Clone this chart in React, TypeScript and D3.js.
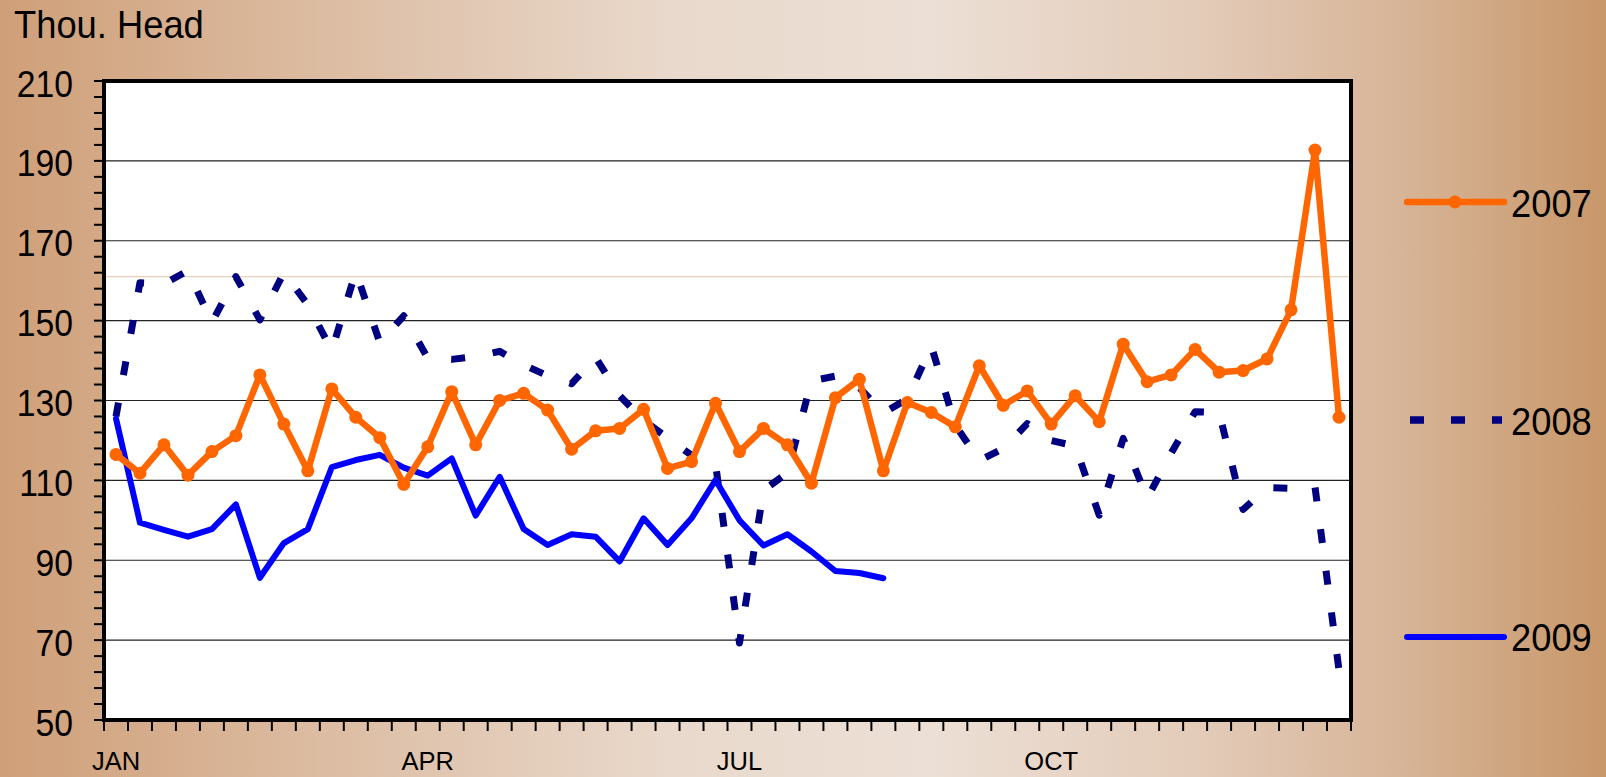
import React, { useEffect } from "react";
import * as d3 from "d3";

// weekly slaughter, thousand head
const weeks = Array.from({ length: 52 }, (_, i) => i + 1);
const monthTicks = [
  { week: 1, label: "JAN" },
  { week: 14, label: "APR" },
  { week: 27, label: "JUL" },
  { week: 40, label: "OCT" },
];
const yTickValues = [50, 70, 90, 110, 130, 150, 170, 190, 210];
const gridValues = [70, 90, 110, 130, 150, 170, 190];
const minorTickValues = d3.range(50, 211, 4);
const faintLevel = 161;

const series2007 = [
  116.5, 111.8, 118.9, 111.3, 117.2, 121.2, 136.4, 124.1, 112.4, 132.9, 125.8, 120.7, 109.0,
  118.4, 132.2, 118.9, 130.0, 131.8, 127.6, 117.8, 122.4, 123.0, 127.8, 113.0, 114.7, 129.3,
  117.2, 123.0, 118.9, 109.3, 130.7, 135.3, 112.4, 129.5, 127.0, 123.4, 138.7, 128.8, 132.4,
  124.1, 131.2, 124.7, 144.1, 134.7, 136.4, 142.8, 137.1, 137.5, 140.4, 152.7, 192.7, 125.8,
];
const series2008 = [
  126.0, 159.5, 159.2, 162.5, 149.5, 161.0, 150.2, 162.0, 154.0, 142.5, 162.3, 144.5, 151.2,
  140.6, 140.3, 141.0, 142.3, 138.9, 136.2, 134.2, 140.8, 131.2, 125.1, 120.6, 116.3, 114.2,
  69.3, 107.5, 111.9, 134.9, 136.1, 133.2, 126.9, 130.4, 143.6, 123.8, 115.0, 118.0, 124.2,
  120.0, 118.6, 101.3, 120.5, 105.5, 116.8, 127.2, 127.0, 102.7, 108.2, 108.0, 108.3, 62.5,
];
const series2009 = [
  125.5, 99.4, 97.6, 95.9, 97.8, 104.0, 85.6, 94.3, 97.8, 113.3, 115.1, 116.4, 113.2,
  111.2, 115.5, 101.2, 110.9, 97.8, 93.8, 96.5, 95.9, 89.7, 100.5, 93.8, 100.5, 110.1,
  100.0, 93.7, 96.5, 92.2, 87.3, 86.8, 85.5,
];

const W = 1606;
const H = 777;
const plot = { left: 104, right: 1351, top: 81, bottom: 720 };
const font = "'Liberation Sans', Arial, sans-serif";
const ORANGE = "#ff6600";
const NAVY = "#000080";
const BLUE = "#0000ff";

export default function App() {
  useEffect(() => {
    document.body.style.margin = "0";
  }, []);

  const x = d3
    .scaleBand<number>()
    .domain(weeks)
    .range([plot.left, plot.right])
    .paddingInner(0)
    .paddingOuter(0);
  const cx = (w: number) => (x(w) as number) + x.bandwidth() / 2;

  const y = d3.scaleLinear().domain([50, 210]).range([plot.bottom, plot.top]);

  const line = d3
    .line<number>()
    .x((d, i) => cx(weeks[i]))
    .y((d) => y(d));

  const tickXs = weeks.map((w) => x(w) as number).concat([plot.right]);

  return (
    <svg width={W} height={H} style={{ display: "block" }}>
      <defs>
        <linearGradient id="bg" x1="0" y1="0" x2="1" y2="0">
          <stop offset="0" stopColor="#cf9f78" />
          <stop offset="0.2" stopColor="#dcbca2" />
          <stop offset="0.42" stopColor="#e9d9cc" />
          <stop offset="0.58" stopColor="#ecdfd5" />
          <stop offset="0.75" stopColor="#e3cbb8" />
          <stop offset="0.88" stopColor="#d6b395" />
          <stop offset="1" stopColor="#c8976a" />
        </linearGradient>
      </defs>
      <rect x={0} y={0} width={W} height={H} fill="url(#bg)" />

      {/* unit label */}
      <text
        transform={`translate(14,38) scale(0.92,1)`}
        fontFamily={font}
        fontSize={39.5}
        fill="#000"
      >
        Thou. Head
      </text>

      {/* plot area */}
      <rect
        x={plot.left}
        y={plot.top}
        width={plot.right - plot.left}
        height={plot.bottom - plot.top}
        fill="#fff"
      />
      <line
        x1={plot.left}
        x2={plot.right}
        y1={y(faintLevel)}
        y2={y(faintLevel)}
        stroke="#e2c6ac"
        strokeWidth={1}
      />
      {gridValues.map((v) => (
        <line
          key={"g" + v}
          x1={plot.left}
          x2={plot.right}
          y1={y(v)}
          y2={y(v)}
          stroke="#222"
          strokeWidth={1.2}
        />
      ))}

      {/* series */}
      <path
        d={line(series2008) || ""}
        fill="none"
        stroke={NAVY}
        strokeWidth={7}
        strokeDasharray="14 28"
        strokeLinejoin="round"
      />
      <path
        d={line(series2009) || ""}
        fill="none"
        stroke={BLUE}
        strokeWidth={6}
        strokeLinejoin="round"
        strokeLinecap="round"
      />
      <path
        d={line(series2007) || ""}
        fill="none"
        stroke={ORANGE}
        strokeWidth={6.5}
        strokeLinejoin="round"
      />
      {series2007.map((v, i) => (
        <circle key={"m" + i} cx={cx(weeks[i])} cy={y(v)} r={6.5} fill={ORANGE} />
      ))}

      {/* frame */}
      <rect
        x={plot.left}
        y={plot.top}
        width={plot.right - plot.left}
        height={plot.bottom - plot.top}
        fill="none"
        stroke="#000"
        strokeWidth={4}
      />

      {/* y axis ticks + labels */}
      {minorTickValues.map((v) => (
        <line
          key={"yt" + v}
          x1={plot.left - 10}
          x2={plot.left}
          y1={y(v)}
          y2={y(v)}
          stroke="#000"
          strokeWidth={2}
        />
      ))}
      {yTickValues.map((v) => (
        <text
          key={"yl" + v}
          transform={`translate(73,${y(v) + 15.5}) scale(0.91,1)`}
          textAnchor="end"
          fontFamily={font}
          fontSize={37}
          fill="#000"
        >
          {v}
        </text>
      ))}

      {/* x axis ticks + labels */}
      {tickXs.map((tx, i) => (
        <line
          key={"xt" + i}
          x1={tx}
          x2={tx}
          y1={plot.bottom + 2}
          y2={plot.bottom + 11}
          stroke="#000"
          strokeWidth={2}
        />
      ))}
      {monthTicks.map((m) => (
        <text
          key={m.label}
          x={cx(m.week)}
          y={770}
          textAnchor="middle"
          fontFamily={font}
          fontSize={25.5}
          fill="#000"
        >
          {m.label}
        </text>
      ))}

      {/* legend */}
      <g>
        <line x1={1407} x2={1504} y1={202} y2={202} stroke={ORANGE} strokeWidth={6.5} strokeLinecap="round" />
        <circle cx={1455} cy={202} r={6.5} fill={ORANGE} />
        <text transform="translate(1511,216.6) scale(0.92,1)" fontFamily={font} fontSize={39.5}>
          2007
        </text>

        <line x1={1410} x2={1502} y1={420} y2={420} stroke={NAVY} strokeWidth={7.5} strokeDasharray="14 27" />
        <text transform="translate(1511,434.6) scale(0.92,1)" fontFamily={font} fontSize={39.5}>
          2008
        </text>

        <line x1={1407} x2={1504} y1={637} y2={637} stroke={BLUE} strokeWidth={6} strokeLinecap="round" />
        <text transform="translate(1511,651) scale(0.92,1)" fontFamily={font} fontSize={39.5}>
          2009
        </text>
      </g>
    </svg>
  );
}
